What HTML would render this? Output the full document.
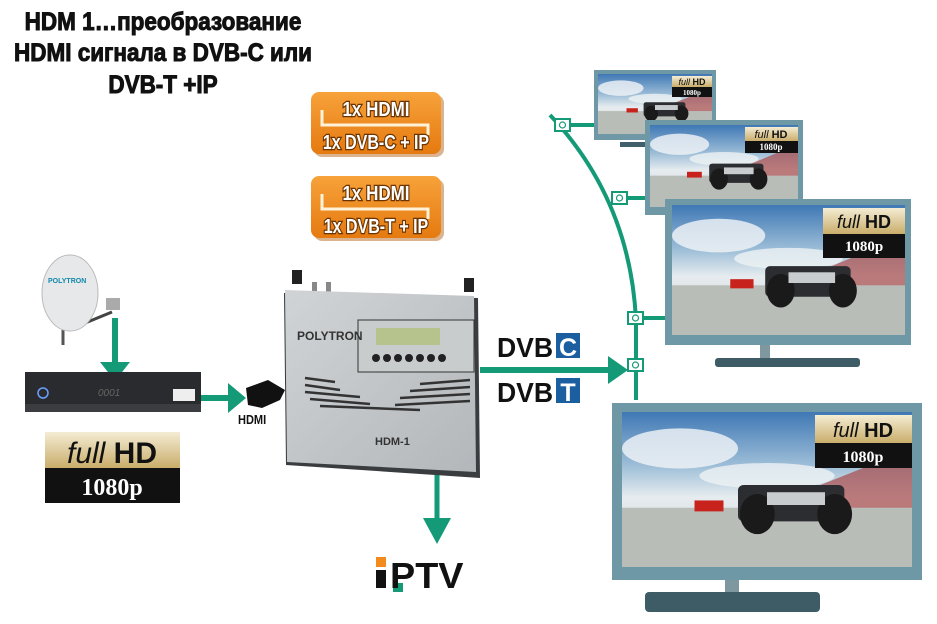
<!DOCTYPE html>
<html><head><meta charset="utf-8"><style>
html,body{margin:0;padding:0;background:#fff;width:937px;height:624px;overflow:hidden}
svg{display:block}
text{font-family:"Liberation Sans",sans-serif}
</style></head><body>
<svg width="937" height="624" viewBox="0 0 937 624" xmlns="http://www.w3.org/2000/svg">
<defs>
<linearGradient id="sky" x1="0" y1="0" x2="0" y2="1">
<stop offset="0" stop-color="#3f78b5"/><stop offset="0.35" stop-color="#9fbfd8"/><stop offset="0.55" stop-color="#e6ecef"/><stop offset="1" stop-color="#c9cfcc"/></linearGradient>
<linearGradient id="gold" x1="0" y1="0" x2="0" y2="1"><stop offset="0" stop-color="#f4ecd4"/><stop offset="1" stop-color="#c9ad6a"/></linearGradient>
<linearGradient id="org" x1="0" y1="0" x2="0" y2="1"><stop offset="0" stop-color="#f7a23a"/><stop offset="1" stop-color="#e57a10"/></linearGradient>
<linearGradient id="dev" x1="0" y1="0" x2="1" y2="1"><stop offset="0" stop-color="#d0d4d6"/><stop offset="1" stop-color="#b3b7ba"/></linearGradient>
<symbol id="scr" viewBox="0 0 300 170" preserveAspectRatio="none">
<rect width="300" height="170" fill="url(#sky)"/>
<ellipse cx="60" cy="40" rx="60" ry="22" fill="#f2f5f7" opacity="0.8"/>
<ellipse cx="150" cy="70" rx="70" ry="14" fill="#eef2f4" opacity="0.8"/>
<polygon points="170,95 300,40 300,110 170,110" fill="#a84a4a" opacity="0.7"/>
<rect x="0" y="105" width="300" height="65" fill="#b9bdb8"/>
<rect x="75" y="97" width="30" height="12" fill="#c8221c"/>
<rect x="120" y="80" width="110" height="40" rx="6" fill="#2b2d30"/>
<ellipse cx="140" cy="112" rx="18" ry="22" fill="#1a1a1a"/>
<ellipse cx="220" cy="112" rx="18" ry="22" fill="#1a1a1a"/>
<rect x="150" y="88" width="60" height="14" fill="#c9ccce"/>
</symbol>
</defs>

<!-- title -->
<g fill="#111" stroke="#111" stroke-width="1" font-size="25" text-anchor="middle" style="font-weight:bold">
<text x="163" y="30" transform="translate(163 0) scale(0.9 1) translate(-163 0)">HDM 1…преобразование</text>
<text x="163" y="61" transform="translate(163 0) scale(0.9 1) translate(-163 0)">HDMI сигнала в DVB-C или</text>
<text x="163" y="93" transform="translate(163 0) scale(0.9 1) translate(-163 0)">DVB-T +IP</text>
</g>

<!-- orange boxes -->
<g font-size="20" fill="#fff" stroke="#6a3300" stroke-width="2.6" paint-order="stroke" text-anchor="middle" style="font-weight:bold">
<rect x="314" y="95" width="130" height="62" rx="8" fill="#b86a20" stroke="none" opacity="0.5"/>
<rect x="311" y="92" width="130" height="62" rx="8" fill="url(#org)" stroke="none"/>
<polyline points="322,110 322,125 428,125 428,135" fill="none" stroke="#fff2d8" stroke-width="3"/>
<text x="376" y="116" transform="translate(376 0) scale(0.85 1) translate(-376 0)">1x HDMI</text>
<text x="376" y="149" transform="translate(376 0) scale(0.8 1) translate(-376 0)">1x DVB-C + IP</text>
<rect x="314" y="179" width="130" height="62" rx="8" fill="#b86a20" stroke="none" opacity="0.5"/>
<rect x="311" y="176" width="130" height="62" rx="8" fill="url(#org)" stroke="none"/>
<polyline points="322,194 322,209 428,209 428,219" fill="none" stroke="#fff2d8" stroke-width="3"/>
<text x="376" y="200" transform="translate(376 0) scale(0.85 1) translate(-376 0)">1x HDMI</text>
<text x="376" y="233" transform="translate(376 0) scale(0.8 1) translate(-376 0)">1x DVB-T + IP</text>
</g>

<!-- green network -->
<g stroke="#159a78" stroke-width="4" fill="none">
<path d="M550,115 Q630,200 636,320 L636,400"/>
<line x1="570" y1="125" x2="596" y2="125"/>
<line x1="627" y1="198" x2="648" y2="198"/>
<line x1="642" y1="318" x2="668" y2="318"/>
<line x1="480" y1="370" x2="612" y2="370" stroke-width="6"/>
<line x1="115" y1="318" x2="115" y2="365" stroke-width="6"/>
<line x1="200" y1="398" x2="230" y2="398" stroke-width="6"/>
<line x1="437" y1="470" x2="437" y2="525" stroke-width="5"/>
</g>
<g fill="#159a78">
<polygon points="608,356 628,370 608,384"/>
<polygon points="100,362 130,362 115,381"/>
<polygon points="228,383 246,398 228,413"/>
<polygon points="423,518 451,518 437,544"/>
</g>
<g fill="#fff" stroke="#159a78" stroke-width="2">
<rect x="555" y="119" width="15" height="12"/><rect x="612" y="192" width="15" height="12"/>
<rect x="628" y="312" width="15" height="12"/><rect x="628" y="359" width="15" height="12"/>
</g>
<g fill="none" stroke="#159a78" stroke-width="1.2">
<circle cx="562.5" cy="125" r="3"/><circle cx="619.5" cy="198" r="3"/><circle cx="635.5" cy="318" r="3"/><circle cx="635.5" cy="365" r="3"/>
</g>

<!-- TVs -->
<rect x="620" y="142" width="30" height="5" fill="#41606b"/>
<rect x="594" y="70" width="122" height="70" fill="#6e98a6"/>
<use href="#scr" x="598" y="74" width="114" height="60"/>
<rect x="672" y="76" width="40" height="11" fill="url(#gold)"/><rect x="672" y="87" width="40" height="10" fill="#111"/>
<text x="692" y="85" font-size="9" text-anchor="middle" style="font-weight:bold" fill="#111"><tspan style="font-style:italic;font-weight:normal">full</tspan> HD</text>
<text x="692" y="95" font-size="7" text-anchor="middle" style="font-family:'Liberation Serif',serif;font-weight:bold" fill="#fff">1080p</text>

<rect x="645" y="120" width="158" height="95" fill="#6e98a6"/>
<use href="#scr" x="650" y="125" width="148" height="82"/>
<rect x="745" y="127" width="53" height="14" fill="url(#gold)"/><rect x="745" y="141" width="53" height="12" fill="#111"/>
<text x="771" y="138" font-size="11" text-anchor="middle" style="font-weight:bold" fill="#111"><tspan style="font-style:italic;font-weight:normal">full</tspan> HD</text>
<text x="771" y="150" font-size="9" text-anchor="middle" style="font-family:'Liberation Serif',serif;font-weight:bold" fill="#fff">1080p</text>

<rect x="760" y="345" width="10" height="15" fill="#7f98a0"/>
<rect x="715" y="358" width="145" height="9" rx="3" fill="#3d5c66"/>
<rect x="665" y="199" width="246" height="146" fill="#6e98a6"/>
<use href="#scr" x="672" y="205" width="233" height="130"/>
<rect x="823" y="208" width="82" height="26" fill="url(#gold)"/><rect x="823" y="234" width="82" height="24" fill="#111"/>
<text x="864" y="228" font-size="18" text-anchor="middle" style="font-weight:bold" fill="#111"><tspan style="font-style:italic;font-weight:normal">full</tspan> HD</text>
<text x="864" y="251" font-size="15" text-anchor="middle" style="font-family:'Liberation Serif',serif;font-weight:bold" fill="#fff">1080p</text>

<rect x="725" y="580" width="14" height="14" fill="#7f98a0"/>
<rect x="645" y="592" width="175" height="20" rx="4" fill="#3d5c66"/>
<rect x="612" y="403" width="310" height="177" fill="#6e98a6"/>
<use href="#scr" x="622" y="412" width="290" height="155"/>
<rect x="815" y="415" width="97" height="28" fill="url(#gold)"/><rect x="815" y="443" width="97" height="25" fill="#111"/>
<text x="863" y="437" font-size="20" text-anchor="middle" style="font-weight:bold" fill="#111"><tspan style="font-style:italic;font-weight:normal">full</tspan> HD</text>
<text x="863" y="462" font-size="16" text-anchor="middle" style="font-family:'Liberation Serif',serif;font-weight:bold" fill="#fff">1080p</text>

<!-- DVB logos -->
<text x="497" y="357" font-size="28" fill="#111" style="font-weight:bold" transform="translate(497 0) scale(0.95 1) translate(-497 0)">DVB</text>
<rect x="556" y="333" width="24" height="25" fill="#1b5fa0"/>
<text x="568" y="356" font-size="25" fill="#fff" text-anchor="middle" style="font-weight:bold">C</text>
<text x="497" y="402" font-size="28" fill="#111" style="font-weight:bold" transform="translate(497 0) scale(0.95 1) translate(-497 0)">DVB</text>
<rect x="556" y="378" width="24" height="25" fill="#1b5fa0"/>
<text x="568" y="401" font-size="25" fill="#fff" text-anchor="middle" style="font-weight:bold">T</text>

<!-- device -->
<rect x="292" y="270" width="10" height="14" fill="#222"/><rect x="464" y="278" width="10" height="14" fill="#222"/>
<rect x="312" y="282" width="5" height="12" fill="#888"/><rect x="326" y="282" width="5" height="12" fill="#888"/>
<polygon points="284,293 478,298 480,478 286,465" fill="#3a3d40"/>
<polygon points="285,290 474,296 476,472 287,462" fill="url(#dev)"/>
<rect x="358" y="320" width="116" height="52" fill="#c9cccd" stroke="#333" stroke-width="1"/>
<rect x="376" y="328" width="64" height="17" fill="#b7c38c"/>
<text x="297" y="340" font-size="12" fill="#333" style="font-weight:bold">POLYTRON</text>
<g fill="#222"><circle cx="376" cy="358" r="4"/><circle cx="387" cy="358" r="4"/><circle cx="398" cy="358" r="4"/><circle cx="409" cy="358" r="4"/><circle cx="420" cy="358" r="4"/><circle cx="431" cy="358" r="4"/><circle cx="442" cy="358" r="4"/></g>
<g stroke="#333" stroke-width="2.5">
<line x1="305" y1="378" x2="335" y2="382"/><line x1="305" y1="385" x2="340" y2="390"/><line x1="305" y1="392" x2="360" y2="397"/><line x1="310" y1="399" x2="370" y2="404"/><line x1="320" y1="406" x2="420" y2="410"/>
<line x1="420" y1="384" x2="470" y2="380"/><line x1="410" y1="391" x2="470" y2="387"/><line x1="400" y1="398" x2="470" y2="394"/><line x1="395" y1="405" x2="470" y2="401"/>
</g>
<text x="375" y="445" font-size="11" style="font-weight:bold" fill="#333">HDM-1</text>
<!-- hdmi connector -->
<polygon points="246,388 268,380 285,390 280,400 262,408 248,405" fill="#111"/>
<text x="238" y="424" font-size="13" fill="#111" style="font-weight:bold" transform="translate(238 0) scale(0.85 1) translate(-238 0)">HDMI</text>

<!-- dish -->
<line x1="63" y1="330" x2="63" y2="345" stroke="#555" stroke-width="3"/>
<line x1="68" y1="330" x2="112" y2="312" stroke="#444" stroke-width="3"/>
<ellipse cx="70" cy="293" rx="28" ry="38" fill="#e6e8ea" stroke="#bbb"/>
<text x="48" y="283" font-size="7" style="font-weight:bold" fill="#18a">POLYTRON</text>
<rect x="106" y="298" width="14" height="12" fill="#aaa"/>
<!-- receiver -->
<rect x="25" y="372" width="176" height="34" fill="#2a2b2e"/>
<rect x="25" y="404" width="176" height="8" fill="#3c3d40"/>
<circle cx="43" cy="393" r="5" fill="none" stroke="#6aa0ff" stroke-width="1.5"/>
<text x="98" y="396" font-size="10" fill="#666" style="font-style:italic">0001</text>
<rect x="173" y="389" width="22" height="12" fill="#eee"/>
<!-- full hd badge -->
<rect x="45" y="432" width="135" height="36" fill="url(#gold)"/>
<rect x="45" y="468" width="135" height="35" fill="#111"/>
<text x="112" y="463" font-size="30" text-anchor="middle" style="font-weight:bold" fill="#111"><tspan style="font-style:italic;font-weight:normal">full</tspan> HD</text>
<text x="112" y="495" font-size="24" text-anchor="middle" style="font-family:'Liberation Serif',serif;font-weight:bold" fill="#fff">1080p</text>

<!-- IPTV -->
<rect x="376" y="557" width="10" height="10" fill="#f28a1c"/>
<rect x="376" y="570" width="10" height="18" fill="#111"/>
<rect x="393" y="583" width="10" height="9" fill="#159a78"/>
<text x="390" y="588" font-size="36" fill="#111" style="font-weight:bold" transform="translate(390 0) scale(1.05 1) translate(-390 0)">PTV</text>
</svg>
</body></html>
